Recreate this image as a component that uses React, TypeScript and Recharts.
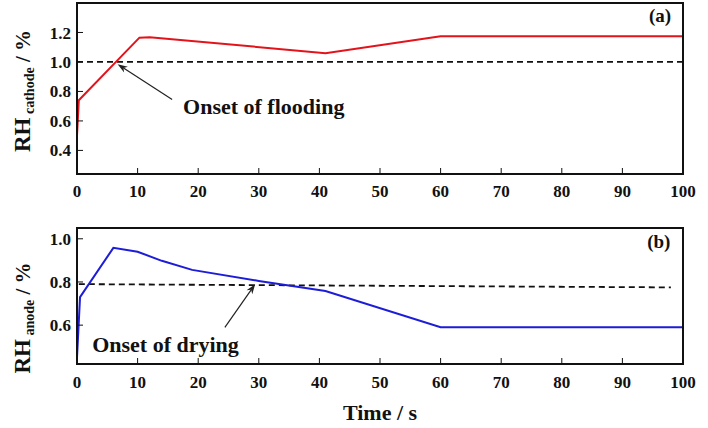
import { LineChart, Line, XAxis, YAxis, ReferenceLine, ReferenceDot, ReferenceArea } from 'recharts';

const FONT = '"Liberation Serif", "Times New Roman", serif';

// x axis ticks (s)
const timeTicks = [0, 10, 20, 30, 40, 50, 60, 70, 80, 90, 100];

// (a) cathode RH
const cathodeTime = [0, 0.3, 10.3, 12, 41, 60, 100];
const cathodeRH = [0.5, 0.74, 1.165, 1.168, 1.06, 1.175, 1.175];
const cathodeTicks = [0.4, 0.6, 0.8, 1.0, 1.2];
const floodTime = [0, 100];
const floodRH = [1.0, 1.0];

// (b) anode RH
const anodeTime = [0, 0.5, 6, 10, 14, 19, 30, 41, 60, 100];
const anodeRH = [0.45, 0.73, 0.958, 0.94, 0.898, 0.856, 0.805, 0.758, 0.59, 0.59];
const anodeTicks = [0.6, 0.8, 1.0];
const dryTime = [0.3, 98];
const dryRH = [0.79, 0.775];

const cathodeData = cathodeTime.map((t, i) => ({ t, rh: cathodeRH[i] }));
const floodData = floodTime.map((t, i) => ({ t, rh: floodRH[i] }));
const anodeData = anodeTime.map((t, i) => ({ t, rh: anodeRH[i] }));
const dryData = dryTime.map((t, i) => ({ t, rh: dryRH[i] }));

const tickStyle = { fontSize: 17, fontWeight: 'bold', fill: '#111', fontFamily: FONT };
const axisLine = { stroke: '#111', strokeWidth: 2 };

const Arrow = (p: any) => {
  const { x1, y1, x2, y2 } = p;
  const a = Math.atan2(y2 - y1, x2 - x1);
  const L = 10;
  const W = 3.5;
  const bx = x2 - L * Math.cos(a);
  const by = y2 - L * Math.sin(a);
  const nx = -Math.sin(a) * W;
  const ny = Math.cos(a) * W;
  const mx = x2 - L * 0.7 * Math.cos(a);
  const my = y2 - L * 0.7 * Math.sin(a);
  return (
    <g>
      <line x1={x1} y1={y1} x2={mx} y2={my} stroke="#222" strokeWidth={1.2} />
      <polygon points={`${x2},${y2} ${bx + nx},${by + ny} ${mx},${my} ${bx - nx},${by - ny}`} fill="#222" />
    </g>
  );
};

const note = (text: string, size: number, anchor: string) => (p: any) => (
  <text x={p.cx} y={p.cy} textAnchor={anchor} fontSize={size} fontWeight="bold" fontFamily={FONT} fill="#111">
    {text}
  </text>
);

const RHLabel = ({ sub, cy }: { sub: string; cy: number }) => (
  <text
    x={30}
    y={cy}
    transform={`rotate(-90 30 ${cy})`}
    textAnchor="middle"
    fontFamily={FONT}
    fontWeight="bold"
    fill="#111"
  >
    <tspan fontSize={23}>RH</tspan>
    <tspan fontSize={14} dy={4}>{' ' + sub}</tspan>
    <tspan fontSize={21} dy={-4}>{' / %'}</tspan>
  </text>
);

// top and right axes only carry the inward ticks of the frame
const frameAxes = (yDomain: [number, number], yTicks: number[]) => [
  <XAxis
    key="xt"
    xAxisId="top"
    orientation="top"
    dataKey="t"
    type="number"
    domain={[0, 100]}
    ticks={timeTicks}
    interval={0}
    tickSize={-6}
    height={1}
    tick={false}
    axisLine={axisLine}
    tickLine={{ stroke: '#111' }}
  />,
  <YAxis
    key="yr"
    yAxisId="right"
    orientation="right"
    type="number"
    domain={yDomain}
    ticks={yTicks}
    interval={0}
    tickSize={-6}
    width={1}
    tick={false}
    axisLine={axisLine}
    tickLine={{ stroke: '#111' }}
  />,
];

export default function App() {
  return (
    <div style={{ position: 'absolute', left: 0, top: 0, width: 708, height: 428, background: '#fff' }}>
      {/* (a) cathode */}
      <div style={{ position: 'absolute', left: 0, top: 0 }}>
        <LineChart width={708} height={200} margin={{ top: 2, right: 24, left: 0, bottom: 0 }}>
          <XAxis
            dataKey="t"
            type="number"
            domain={[0, 100]}
            ticks={timeTicks}
            interval={0}
            tickSize={-6}
            tickMargin={17}
            height={26}
            axisLine={axisLine}
            tickLine={{ stroke: '#111' }}
            tick={tickStyle}
          />
          <YAxis
            type="number"
            domain={[0.24, 1.4]}
            ticks={cathodeTicks}
            interval={0}
            tickSize={-6}
            tickMargin={12}
            width={77}
            axisLine={axisLine}
            tickLine={{ stroke: '#111' }}
            tick={tickStyle}
            tickFormatter={(v: number) => v.toFixed(1)}
            label={<RHLabel sub="cathode" cy={91} />}
          />
          {frameAxes([0.24, 1.4], cathodeTicks)}
          <ReferenceArea x1={0} x2={100} y1={0.24} y2={1.4} fill="none" stroke="#111" strokeWidth={2} />
          <Line data={cathodeData} xAxisId="top" yAxisId="right" dataKey="rh" stroke="none" dot={false} legendType="none" isAnimationActive={false} />
          <Line data={floodData} dataKey="rh" type="linear" stroke="#111" strokeWidth={1.8} strokeDasharray="6 4" dot={false} isAnimationActive={false} />
          <Line data={cathodeData} dataKey="rh" type="linear" stroke="#e3131b" strokeWidth={2} dot={false} isAnimationActive={false} />
          <ReferenceLine segment={[{ x: 15.7, y: 0.746 }, { x: 6.7, y: 0.985 }]} shape={Arrow} />
          <ReferenceDot x={17.5} y={0.645} r={1} shape={note('Onset of flooding', 22, 'start')} />
          <ReferenceDot x={96.2} y={1.268} r={1} shape={note('(a)', 19, 'middle')} />
        </LineChart>
      </div>

      {/* (b) anode */}
      <div style={{ position: 'absolute', left: 0, top: 200 }}>
        <LineChart width={708} height={228} margin={{ top: 27, right: 24, left: 0, bottom: 0 }}>
          <XAxis
            dataKey="t"
            type="number"
            domain={[0, 100]}
            ticks={timeTicks}
            interval={0}
            tickSize={-6}
            tickMargin={18}
            height={64}
            axisLine={axisLine}
            tickLine={{ stroke: '#111' }}
            tick={tickStyle}
            label={{ value: 'Time / s', position: 'insideBottom', offset: 8, fontSize: 22, fontWeight: 'bold', fontFamily: FONT, fill: '#111' }}
          />
          <YAxis
            type="number"
            domain={[0.42, 1.05]}
            ticks={anodeTicks}
            interval={0}
            tickSize={-6}
            tickMargin={12}
            width={77}
            axisLine={axisLine}
            tickLine={{ stroke: '#111' }}
            tick={tickStyle}
            tickFormatter={(v: number) => v.toFixed(1)}
            label={<RHLabel sub="anode" cy={118} />}
          />
          {frameAxes([0.42, 1.05], anodeTicks)}
          <ReferenceArea x1={0} x2={100} y1={0.42} y2={1.05} fill="none" stroke="#111" strokeWidth={2} />
          <Line data={anodeData} xAxisId="top" yAxisId="right" dataKey="rh" stroke="none" dot={false} legendType="none" isAnimationActive={false} />
          <Line data={dryData} dataKey="rh" type="linear" stroke="#111" strokeWidth={1.8} strokeDasharray="6 4" dot={false} isAnimationActive={false} />
          <Line data={anodeData} dataKey="rh" type="linear" stroke="#1d1dd8" strokeWidth={2} dot={false} isAnimationActive={false} />
          <ReferenceLine segment={[{ x: 24.4, y: 0.59 }, { x: 29.4, y: 0.79 }]} shape={Arrow} />
          <ReferenceDot x={2.5} y={0.474} r={1} shape={note('Onset of drying', 22, 'start')} />
          <ReferenceDot x={96.0} y={0.958} r={1} shape={note('(b)', 19, 'middle')} />
        </LineChart>
      </div>
    </div>
  );
}
